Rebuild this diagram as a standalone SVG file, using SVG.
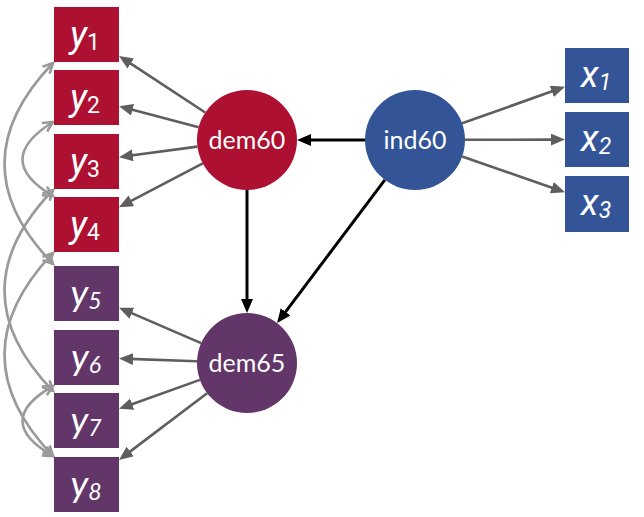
<svg xmlns="http://www.w3.org/2000/svg" width="644" height="517" viewBox="0 0 644 517">
<style>
.red{fill:#AD1031}
.pur{fill:#623668}
.blu{fill:#335597}
.nl{font-family:Lato,"Open Sans",sans-serif;font-size:25px;fill:#fff;text-anchor:middle}
.lab{font-family:Roboto,"Liberation Sans",sans-serif;font-style:italic;font-size:37px;fill:#fff;text-anchor:middle}
.lab2{font-family:Lato,"Liberation Sans",sans-serif;font-style:italic;font-size:37px;fill:#fff;text-anchor:middle}
.s{font-size:23px}
.su{font-size:23px;font-style:normal}
.ld{stroke:#5e5e5e;stroke-width:2.6;fill:none;marker-end:url(#ag)}
.st{stroke:#000;stroke-width:3;fill:none;marker-end:url(#ab)}
.cv{stroke:#9a9a9a;stroke-width:2.6;fill:none;marker-start:url(#ac);marker-end:url(#ac)}
</style>
<defs>
<marker id="ag" markerUnits="userSpaceOnUse" markerWidth="16" markerHeight="14" refX="4" refY="6" orient="auto"><path d="M0,0 L14,6 L0,12 z" fill="#5e5e5e"/></marker>
<marker id="ab" markerUnits="userSpaceOnUse" markerWidth="16" markerHeight="14" refX="4" refY="6" orient="auto"><path d="M0,0 L14,6 L0,12 z" fill="#000"/></marker>
<marker id="ac" markerUnits="userSpaceOnUse" markerWidth="14" markerHeight="14" refX="11" refY="6" orient="auto-start-reverse"><path d="M1,1 L11,6 L1,11" fill="none" stroke="#9a9a9a" stroke-width="2.6"/></marker>
</defs>
<g id="connectors">
<path class="ld" d="M205.2,112.5 L127.4,61.4"/>
<path class="ld" d="M198.7,127.2 L128.7,108.7"/>
<path class="ld" d="M197.4,146.6 L128.9,155.8"/>
<path class="ld" d="M202.8,163.3 L127.8,202.7"/>
<path class="ld" d="M201.1,343.1 L128.2,311.6"/>
<path class="ld" d="M197,361.3 L129,358.9"/>
<path class="ld" d="M199.9,379.9 L128.4,405.5"/>
<path class="ld" d="M207.1,393.2 L127,453.9"/>
<path class="ld" d="M462.1,123.3 L555.6,90.1"/>
<path class="ld" d="M465,139.8 L555,139.6"/>
<path class="ld" d="M462.2,156.5 L555.6,189"/>
<path class="st" d="M365,140 L307,140"/>
<path class="st" d="M247,190 L247,303"/>
<path class="st" d="M384.9,179.9 L283.1,315.1"/>
<path class="cv" d="M53,63 Q-44,164 53,264"/>
<path class="cv" d="M53,122 Q-8,160 53,196"/>
<path class="cv" d="M53,190 Q-44,291 53,391"/>
<path class="cv" d="M53,253 Q-44,355 53,456"/>
<path class="cv" d="M53,386 Q-8,421 53,456"/>
</g>
<g id="y1"><rect class="red" x="54" y="7" width="65" height="55"/><text class="lab" x="85" y="47">y<tspan class="su" dy="3">1</tspan></text></g>
<g id="y2"><rect class="red" x="54" y="70" width="65" height="55"/><text class="lab" x="85" y="110">y<tspan class="su" dy="3">2</tspan></text></g>
<g id="y3"><rect class="red" x="54" y="134" width="65" height="55"/><text class="lab" x="85" y="174">y<tspan class="su" dy="3">3</tspan></text></g>
<g id="y4"><rect class="red" x="54" y="197" width="65" height="55"/><text class="lab" x="85" y="237">y<tspan class="su" dy="3">4</tspan></text></g>
<g id="y5"><rect class="pur" x="54" y="266" width="65" height="55"/><text class="lab2" x="86" y="306">y<tspan class="s" dy="3">5</tspan></text></g>
<g id="y6"><rect class="pur" x="54" y="330" width="65" height="55"/><text class="lab2" x="86" y="370">y<tspan class="s" dy="3">6</tspan></text></g>
<g id="y7"><rect class="pur" x="54" y="393" width="65" height="55"/><text class="lab2" x="86" y="433">y<tspan class="s" dy="3">7</tspan></text></g>
<g id="y8"><rect class="pur" x="54" y="457" width="65" height="55"/><text class="lab2" x="86" y="497">y<tspan class="s" dy="3">8</tspan></text></g>
<g id="x1"><rect class="blu" x="565" y="48" width="64" height="55"/><text class="lab" x="596" y="87">x<tspan class="s" dy="3">1</tspan></text></g>
<g id="x2"><rect class="blu" x="565" y="112" width="64" height="55"/><text class="lab" x="596" y="151">x<tspan class="s" dy="3">2</tspan></text></g>
<g id="x3"><rect class="blu" x="565" y="176" width="64" height="56"/><text class="lab" x="596" y="215">x<tspan class="s" dy="3">3</tspan></text></g>
<g id="dem60"><circle class="red" cx="247" cy="140" r="50"/><text class="nl" x="247" y="149">dem60</text></g>
<g id="ind60"><circle class="blu" cx="415" cy="140" r="50"/><text class="nl" x="415" y="149">ind60</text></g>
<g id="dem65"><circle class="pur" cx="247" cy="363" r="50"/><text class="nl" x="247" y="372">dem65</text></g>
</svg>
